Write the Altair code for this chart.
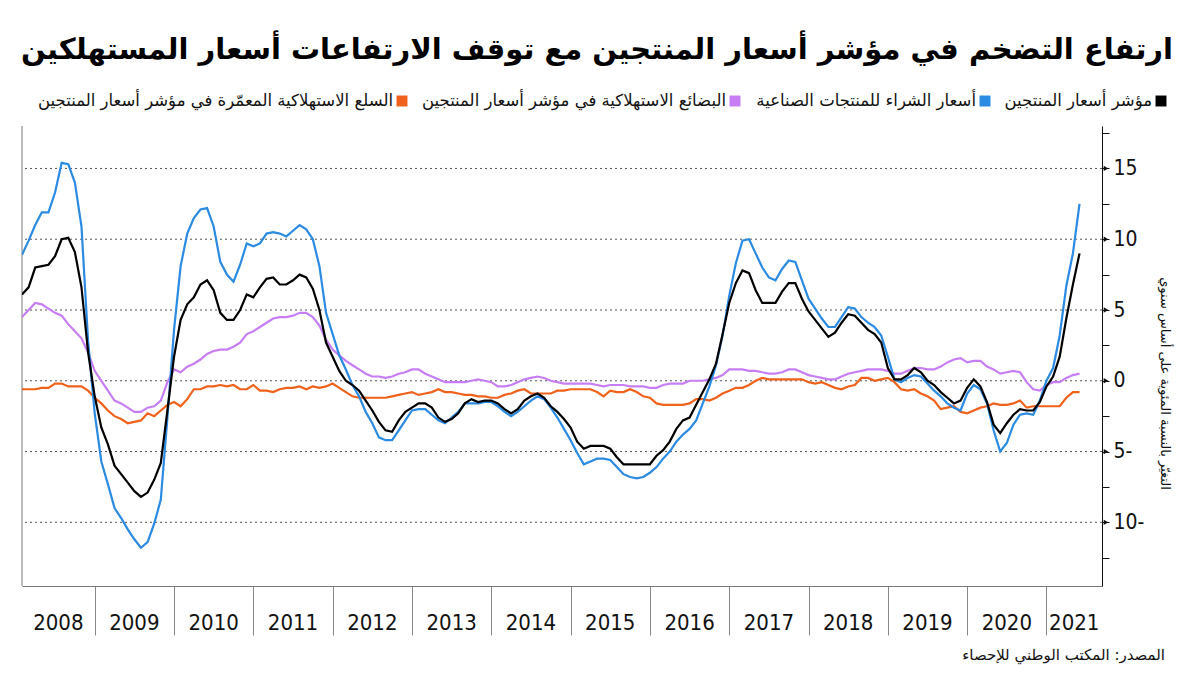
import altair as alt
import pandas as pd

# ---------------- data (monthly, Jan 2008 .. May 2021) ----------------
years = [2008, 2009, 2010, 2011, 2012, 2013, 2014, 2015, 2016, 2017, 2018, 2019, 2020, 2021]

ppi = [
    6.1, 6.6, 8.0, 8.1, 8.2, 8.8, 10.0, 10.1, 9.1, 6.6, 2.0, -1.1,
    -3.3, -4.5, -6.0, -6.6, -7.2, -7.8, -8.2, -7.9, -7.0, -5.8, -2.1, 1.7,
    4.3, 5.4, 5.9, 6.8, 7.1, 6.4, 4.8, 4.3, 4.3, 5.0, 6.1, 5.9,
    6.6, 7.2, 7.3, 6.8, 6.8, 7.1, 7.5, 7.3, 6.5, 5.0, 2.7, 1.7,
    0.7, 0.0, -0.3, -0.7, -1.4, -2.1, -2.9, -3.5, -3.6, -2.8, -2.2, -1.9,
    -1.6, -1.6, -1.9, -2.6, -2.9, -2.7, -2.3, -1.6, -1.3, -1.5, -1.4, -1.4,
    -1.6, -2.0, -2.3, -2.0, -1.4, -1.1, -0.9, -1.2, -1.8, -2.2, -2.7, -3.3,
    -4.3, -4.8, -4.6, -4.6, -4.6, -4.8, -5.4, -5.9, -5.9, -5.9, -5.9, -5.9,
    -5.3, -4.9, -4.3, -3.4, -2.8, -2.6, -1.7, -0.8, 0.1, 1.2, 3.3, 5.5,
    6.9, 7.8, 7.6, 6.4, 5.5, 5.5, 5.5, 6.3, 6.9, 6.9, 5.8, 4.9,
    4.3, 3.7, 3.1, 3.4, 4.1, 4.7, 4.6, 4.1, 3.6, 3.3, 2.7, 0.9,
    0.1, 0.1, 0.4, 0.9, 0.6, 0.0, -0.3, -0.8, -1.2, -1.6, -1.4, -0.5,
    0.1, -0.4, -1.5, -3.1, -3.7, -3.0, -2.4, -2.0, -2.1, -2.1, -1.5, -0.4,
    0.3, 1.7, 4.4, 6.8, 9.0,
]

purchase = [
    8.9, 9.9, 11.0, 11.9, 11.9, 13.3, 15.4, 15.3, 14.0, 10.9, 2.8, -2.3,
    -5.7, -7.3, -9.0, -9.7, -10.5, -11.2, -11.8, -11.4, -10.1, -8.4, -2.6, 3.6,
    8.1, 10.4, 11.5, 12.1, 12.2, 10.9, 8.4, 7.5, 7.0, 8.2, 9.7, 9.5,
    9.7, 10.4, 10.5, 10.4, 10.2, 10.6, 11.0, 10.7, 10.0, 8.1, 4.8, 3.3,
    1.8, 0.8, -0.3, -1.1, -2.2, -3.0, -4.0, -4.2, -4.2, -3.5, -2.8, -2.1,
    -2.0, -2.0, -2.4, -2.8, -3.0, -2.6, -2.2, -1.6, -1.6, -1.6, -1.5, -1.5,
    -1.8, -2.2, -2.5, -2.2, -1.8, -1.4, -1.1, -1.3, -1.9, -2.6, -3.4, -4.2,
    -5.1, -5.9, -5.7, -5.5, -5.5, -5.6, -6.1, -6.6, -6.8, -6.9, -6.8, -6.5,
    -6.1, -5.5, -5.0, -4.3, -3.8, -3.4, -2.8, -1.6, -0.4, 1.1, 3.2, 6.0,
    8.3, 9.9, 10.0, 9.0, 8.0, 7.3, 7.1, 7.9, 8.5, 8.4, 7.1, 5.8,
    5.1, 4.4, 3.8, 3.8, 4.5, 5.2, 5.1, 4.5, 4.1, 3.8, 3.2, 1.7,
    0.1, -0.1, 0.2, 0.4, 0.3, -0.2, -0.7, -1.1, -1.6, -1.9, -2.1, -0.9,
    -0.3, -0.6, -1.6, -3.5, -5.0, -4.4, -3.1, -2.4, -2.3, -2.4, -1.4, 0.0,
    0.9, 3.2, 6.7, 9.0, 12.5,
]

consumer = [
    4.5, 5.0, 5.5, 5.4, 5.1, 4.8, 4.6, 4.0, 3.5, 3.0, 2.0, 0.7,
    0.0, -0.7, -1.4, -1.6, -1.9, -2.2, -2.2, -1.9, -1.8, -1.4, -0.1, 0.8,
    0.6, 1.0, 1.2, 1.5, 1.9, 2.1, 2.2, 2.2, 2.4, 2.7, 3.3, 3.5,
    3.8, 4.1, 4.4, 4.5, 4.5, 4.6, 4.8, 4.8, 4.5, 3.9, 2.9, 2.2,
    1.8, 1.4, 1.1, 0.8, 0.5, 0.3, 0.3, 0.2, 0.3, 0.5, 0.6, 0.8,
    0.8, 0.5, 0.3, 0.1, -0.1, -0.1, -0.1, -0.1, 0.0, 0.1, 0.0, -0.1,
    -0.4, -0.4, -0.3, -0.1, 0.1, 0.2, 0.3, 0.2, 0.0, -0.1, -0.2, -0.2,
    -0.2, -0.2, -0.2, -0.3, -0.4, -0.3, -0.3, -0.3, -0.4, -0.4, -0.4, -0.5,
    -0.5, -0.3, -0.2, -0.2, -0.2, 0.0, 0.0, 0.0, 0.1, 0.2, 0.4, 0.8,
    0.8, 0.8, 0.7, 0.7, 0.6, 0.5, 0.5, 0.6, 0.8, 0.8, 0.6, 0.4,
    0.3, 0.2, 0.1, 0.1, 0.3, 0.5, 0.6, 0.7, 0.8, 0.8, 0.8, 0.7,
    0.5, 0.5, 0.7, 0.9, 0.9, 0.8, 0.8, 1.0, 1.3, 1.5, 1.6, 1.3,
    1.4, 1.4, 1.0, 0.8, 0.5, 0.6, 0.7, 0.6, -0.1, -0.6, -0.7, -0.3,
    -0.1, -0.1, 0.2, 0.4, 0.5,
]

durable = [
    -0.6, -0.6, -0.6, -0.5, -0.5, -0.2, -0.2, -0.4, -0.4, -0.4, -0.7, -1.2,
    -1.6, -2.1, -2.5, -2.7, -3.0, -2.9, -2.8, -2.3, -2.5, -2.1, -1.7, -1.5,
    -1.8, -1.3, -0.6, -0.6, -0.4, -0.4, -0.3, -0.4, -0.3, -0.6, -0.6, -0.3,
    -0.7, -0.7, -0.8, -0.6, -0.5, -0.5, -0.4, -0.6, -0.4, -0.5, -0.4, -0.2,
    -0.5, -0.8, -1.1, -1.2, -1.2, -1.2, -1.2, -1.2, -1.1, -1.0, -0.9, -0.8,
    -1.0, -0.9, -0.8, -0.6, -0.8, -0.8, -0.9, -1.0, -1.0, -1.1, -1.1, -1.2,
    -1.2, -1.0, -0.9, -0.7, -0.6, -0.9, -0.9, -0.9, -0.9, -0.7, -0.7, -0.6,
    -0.6, -0.6, -0.6, -0.8, -1.1, -0.7, -0.8, -0.8, -0.6, -0.8, -1.1, -1.2,
    -1.6, -1.7, -1.7, -1.7, -1.7, -1.6, -1.3, -1.3, -1.4, -1.2, -0.9, -0.7,
    -0.5, -0.5, -0.3, 0.0, 0.2, 0.1, 0.1, 0.1, 0.1, 0.1, 0.1, -0.1,
    -0.2, -0.1, -0.3, -0.5, -0.6, -0.4, -0.3, 0.2, 0.2, 0.0, 0.1, 0.2,
    -0.1, -0.6, -0.7, -0.6, -0.9, -1.1, -1.4, -2.0, -1.9, -1.8, -2.2, -2.3,
    -2.1, -1.9, -1.8, -1.6, -1.7, -1.7, -1.6, -1.4, -1.9, -1.8, -1.8, -1.8,
    -1.8, -1.8, -1.2, -0.8, -0.8,
]

series_names = [
    "مؤشر أسعار المنتجين",
    "أسعار الشراء للمنتجات الصناعية",
    "البضائع الاستهلاكية في مؤشر أسعار المنتجين",
    "السلع الاستهلاكية المعمّرة في مؤشر أسعار المنتجين",
]
series_values = [ppi, purchase, consumer, durable]
series_colors = ["#000000", "#2b8ae2", "#c77ef4", "#f0621b"]

grid_values = [-10, -5, 0, 5, 10, 15]
tick_values = [-12.5, -10, -7.5, -5, -2.5, 0, 2.5, 5, 7.5, 10, 12.5, 15, 17.5]

title_text = "ارتفاع التضخم في مؤشر أسعار المنتجين مع توقف الارتفاعات أسعار المستهلكين"
y_title = "التغيّر بالنسبة المئوية على أساس سنوي"
source_text = "المصدر: المكتب الوطني للإحصاء"

# ---------------- layout ----------------
W, H = 1080, 460
X_MAX = 163.4
ARABIC = "DejaVu Sans"
NUM = "Liberation Sans Narrow, DejaVu Sans Condensed, Liberation Sans, sans-serif"

# legend layout (square x, label right edge), right to left, plot coordinates
legend_square_x = [1139, 963, 713, 380]
legend_label_right = [1130, 954, 704, 371]

rows = []
for name, vals in zip(series_names, series_values):
    for i, v in enumerate(vals):
        rows.append({"m": i, "v": v, "s": name})
df = pd.DataFrame(rows)

separators = [12 * (i + 1) - 1 for i in range(len(years) - 1)]
bounds = [0] + separators + [X_MAX]
year_df = pd.DataFrame({
    "year": [str(y) for y in years],
    "mid": [(bounds[i] + bounds[i + 1]) / 2 for i in range(len(years))],
})

xs = alt.Scale(domain=[0, X_MAX], nice=False, zero=False)
ys = alt.Scale(domain=[-14.5, 18], nice=False, zero=False)
color_scale = alt.Scale(domain=series_names, range=series_colors)

x_axis = alt.Axis(
    values=separators, labels=False, title=None, grid=False,
    tickSize=49, tickColor="#888888", tickWidth=1,
    domainColor="#777777", domainWidth=1,
)
y_axis = alt.Axis(
    orient="right", values=tick_values, title=y_title,
    labelExpr="datum.value % 5 == 0 ? (datum.value < 0 ? (-datum.value) + '-' : datum.value + '') : ''",
    labelFont=NUM, labelFontSize=21, labelColor="#111111", labelPadding=4,
    tickSize=7, tickColor="#111111", domainColor="#111111", grid=False,
    titleFont=ARABIC, titleFontSize=13, titleFontWeight="normal", titleColor="#111111",
    titleAngle=90, titleAlign="center", titleBaseline="middle", titleX=62, titleY=257,
)

# gridlines
grid = alt.Chart(pd.DataFrame({"g": grid_values})).mark_rule(
    color="#555555", strokeDash=[2, 3], strokeWidth=1
).encode(
    y=alt.Y("g:Q", scale=ys, axis=y_axis),
)

# arrow heads on labelled ticks
arrows = alt.Chart(pd.DataFrame({"g": grid_values})).mark_point(
    shape="triangle-right", filled=True, size=28, color="#111111", opacity=1
).encode(
    x=alt.value(W + 4),
    y=alt.Y("g:Q", scale=ys, axis=y_axis),
)

# left border
left_border = alt.Chart(pd.DataFrame({"a": [0]})).mark_rule(color="#777777", strokeWidth=1).encode(
    x=alt.value(0), y=alt.value(0), y2=alt.value(H)
)

# lines: draw orange, purple, blue, black
line_layers = []
for idx in [3, 2, 1, 0]:
    name = series_names[idx]
    sub = df[df["s"] == name]
    line_layers.append(
        alt.Chart(sub).mark_line(strokeWidth=2.2, clip=True).encode(
            x=alt.X("m:Q", scale=xs, axis=x_axis),
            y=alt.Y("v:Q", scale=ys, axis=y_axis),
            color=alt.Color("s:N", scale=color_scale, legend=None),
        )
    )

# year labels
year_labels = alt.Chart(year_df).mark_text(
    font=NUM, fontSize=22, color="#111111", baseline="middle", align="center"
).encode(
    x=alt.X("mid:Q", scale=xs, axis=x_axis),
    y=alt.value(H + 37),
    text="year:N",
)

# title
title = alt.Chart(pd.DataFrame({"t": [title_text]})).mark_text(
    font=ARABIC, fontSize=29, fontWeight="bold", color="#000000", align="right", baseline="middle"
).encode(x=alt.value(1151), y=alt.value(-76), text="t:N")

# legend
leg_squares = []
leg_texts = []
for name, sxp, lxp, col in zip(series_names, legend_square_x, legend_label_right, series_colors):
    one = pd.DataFrame({"s": [name]})
    leg_squares.append(
        alt.Chart(one).mark_square(size=120, filled=True, opacity=1, color=col).encode(
            x=alt.value(sxp), y=alt.value(-25)
        )
    )
    leg_texts.append(
        alt.Chart(one).mark_text(
            font=ARABIC, fontSize=16.5, color="#111111", align="right", baseline="middle"
        ).encode(x=alt.value(lxp), y=alt.value(-25), text="s:N")
    )

source = alt.Chart(pd.DataFrame({"t": [source_text]})).mark_text(
    font=ARABIC, fontSize=15, color="#111111", align="right", baseline="middle"
).encode(x=alt.value(1143), y=alt.value(H + 69), text="t:N")

chart = alt.layer(
    grid, left_border, *line_layers, arrows, year_labels, title, *leg_squares, *leg_texts, source
).properties(
    width=W, height=H,
    autosize=alt.AutoSizeParams(type="none"),
    padding={"left": 14, "top": 118, "right": 90, "bottom": 81},
    background="white",
).configure_view(stroke=None)

chart.save("out.html", embed_options={"renderer": "svg", "actions": False})
